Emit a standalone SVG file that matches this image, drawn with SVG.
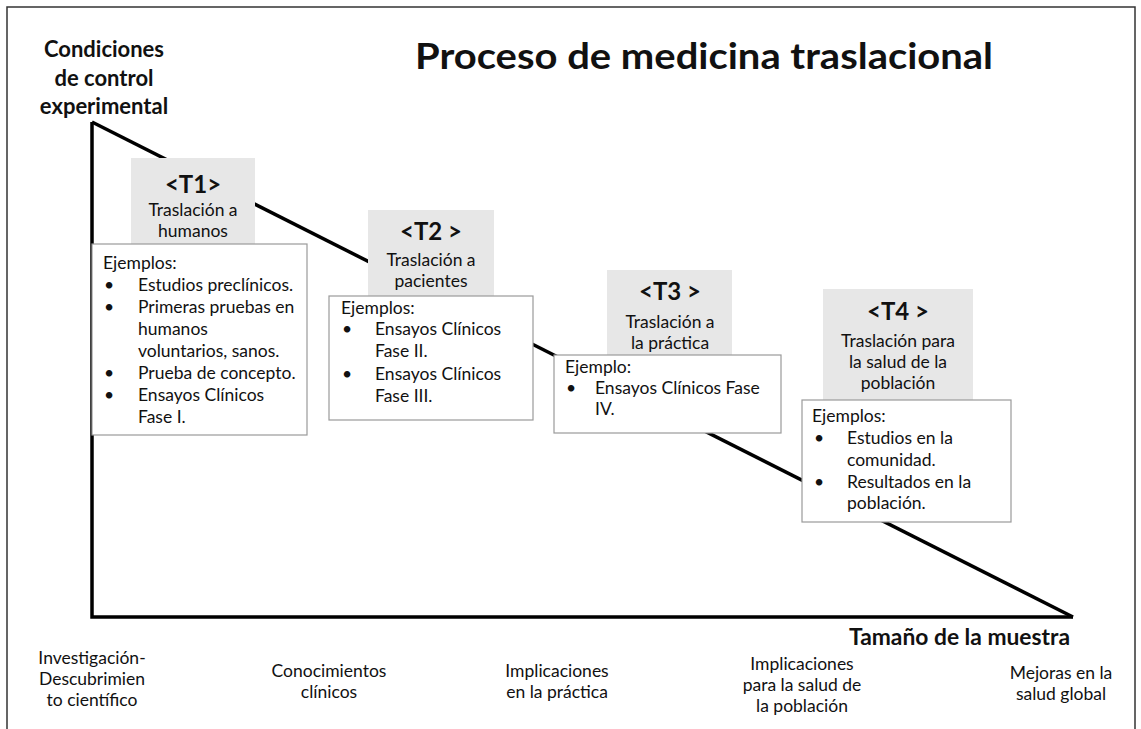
<svg xmlns="http://www.w3.org/2000/svg" width="1141" height="729" viewBox="0 0 1141 729">
<style>
text{font-family:Lato,"Open Sans","Liberation Sans",sans-serif;fill:#111}
.b{font-weight:bold}
.c{text-anchor:middle}
.hd{fill:#e7e7e7;stroke:none}
.bx{fill:#fff;stroke:#9a9a9a;stroke-width:1.2}
.t{font-size:24px;font-weight:bold}
.s{font-size:17.5px}
.ax{fill:none;stroke:#000;stroke-width:3.5}
</style>
<rect x="7" y="7" width="1128" height="730" fill="#fff" stroke="#333" stroke-width="1.5"/>
<g id="title">
<text class="b" x="415" y="69" font-size="37" textLength="578" lengthAdjust="spacingAndGlyphs">Proceso de medicina traslacional</text>
</g>
<g id="yaxis-label">
<text class="b c" x="104" y="57" font-size="22">Condiciones</text>
<text class="b c" x="104" y="86" font-size="22">de control</text>
<text class="b c" x="104" y="114" font-size="22">experimental</text>
</g>
<g id="connectors">
<polyline class="ax" points="92,122 92,617 1073,617"/>
<line class="ax" x1="92" y1="122" x2="1073" y2="617"/>
</g>
<g id="xaxis-label">
<text class="b" x="849" y="645" font-size="22.5" textLength="221" lengthAdjust="spacingAndGlyphs">Tamaño  de la muestra</text>
</g>
<g id="T1">
<rect class="hd" x="131" y="158" width="124" height="87"/>
<text class="t c" x="193" y="193">&lt;T1&gt;</text>
<text class="s c" x="193" y="216">Traslación a</text>
<text class="s c" x="193" y="237">humanos</text>
<rect class="bx" x="92" y="244" width="215" height="191"/>
<text class="s" x="103" y="269">Ejemplos:</text>
<text class="s" x="104" y="291">•</text><text class="s" x="138" y="291">Estudios preclínicos.</text>
<text class="s" x="104" y="313">•</text><text class="s" x="138" y="313">Primeras pruebas en</text>
<text class="s" x="138" y="335">humanos</text>
<text class="s" x="138" y="357">voluntarios, sanos.</text>
<text class="s" x="104" y="379">•</text><text class="s" x="138" y="379">Prueba de concepto.</text>
<text class="s" x="104" y="401">•</text><text class="s" x="138" y="401">Ensayos Clínicos</text>
<text class="s" x="138" y="423">Fase I.</text>
</g>
<g id="T2">
<rect class="hd" x="368" y="210" width="126" height="86"/>
<text class="t c" x="431" y="240">&lt;T2 &gt;</text>
<text class="s c" x="431" y="266">Traslación a</text>
<text class="s c" x="431" y="287">pacientes</text>
<rect class="bx" x="329" y="296" width="204" height="124"/>
<text class="s" x="341" y="314">Ejemplos:</text>
<text class="s" x="342" y="335">•</text><text class="s" x="375" y="335">Ensayos Clínicos</text>
<text class="s" x="375" y="357">Fase II.</text>
<text class="s" x="342" y="380">•</text><text class="s" x="375" y="380">Ensayos Clínicos</text>
<text class="s" x="375" y="402">Fase III.</text>
</g>
<g id="T3">
<rect class="hd" x="607" y="270" width="125" height="86"/>
<text class="t c" x="670" y="300">&lt;T3 &gt;</text>
<text class="s c" x="670" y="328">Traslación a</text>
<text class="s c" x="670" y="349">la práctica</text>
<rect class="bx" x="554" y="355" width="227" height="78"/>
<text class="s" x="565" y="373">Ejemplo:</text>
<text class="s" x="566" y="394">•</text><text class="s" x="595" y="394">Ensayos Clínicos Fase</text>
<text class="s" x="595" y="415">IV.</text>
</g>
<g id="T4">
<rect class="hd" x="823" y="289" width="150" height="111"/>
<text class="t c" x="898" y="320">&lt;T4 &gt;</text>
<text class="s c" x="898" y="347">Traslación para</text>
<text class="s c" x="898" y="368">la salud de la</text>
<text class="s c" x="898" y="389">población</text>
<rect class="bx" x="802" y="400" width="209" height="122"/>
<text class="s" x="812" y="422">Ejemplos:</text>
<text class="s" x="814" y="444">•</text><text class="s" x="847" y="444">Estudios en la</text>
<text class="s" x="847" y="466">comunidad.</text>
<text class="s" x="814" y="488">•</text><text class="s" x="847" y="488">Resultados en la</text>
<text class="s" x="847" y="509">población.</text>
</g>
<g id="stages">
<text class="s c" x="92" y="664">Investigación-</text>
<text class="s c" x="92" y="685">Descubrimien</text>
<text class="s c" x="92" y="706">to científico</text>
<text class="s c" x="329" y="677">Conocimientos</text>
<text class="s c" x="329" y="698">clínicos</text>
<text class="s c" x="557" y="677">Implicaciones</text>
<text class="s c" x="557" y="698">en la práctica</text>
<text class="s c" x="802" y="670">Implicaciones</text>
<text class="s c" x="802" y="691">para la salud de</text>
<text class="s c" x="802" y="712">la población</text>
<text class="s c" x="1061" y="679">Mejoras en la</text>
<text class="s c" x="1061" y="700">salud global</text>
</g>
</svg>
